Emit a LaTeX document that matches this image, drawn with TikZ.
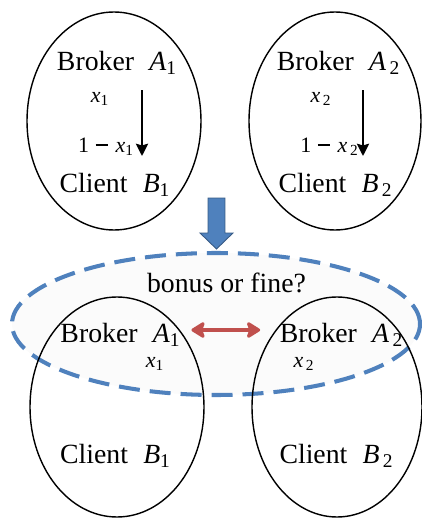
\documentclass[tikz,border=0pt]{standalone}
\usepackage{fontspec}
\setmainfont{Liberation Serif}
\usetikzlibrary{arrows.meta}
\definecolor{setblue}{HTML}{4F81BD}
\definecolor{pairred}{HTML}{C0504D}
\newcommand{\ivar}[2]{\textit{#1}\textsubscript{#2}}
\newcommand{\minusbar}{\hspace{0.3em}\rule[0.26em]{0.55em}{1.2pt}\hspace{0.35em}}

\begin{document}
\begin{tikzpicture}
		\tikzstyle{party} = [anchor=base, inner sep=0pt, font=\fontsize{15.8}{18}\selectfont]
		\tikzstyle{share} = [anchor=base, inner sep=0pt, font=\fontsize{12.5}{15}\selectfont]
		\tikzstyle{group} = [line width=0.8pt]
		\tikzstyle{flow} = [line width=1.1pt, -{Stealth[length=7pt, width=7pt, inset=1pt]}]

		\useasboundingbox (0,0) rectangle (8.44,10.38);

		% before: each broker with its own client
		\draw[group] (2.28,7.96) ellipse (1.74 and 2.18);
		\draw[group] (6.70,7.96) ellipse (1.72 and 2.18);

		\node[party] (topA1) at (2.34,8.98) {Broker\hspace{0.55em}\ivar{A}{1}};
		\node[share] (topx1) at (2.00,8.34) {\ivar{x}{1}};
		\node[share] (topy1) at (2.12,7.34) {1\minusbar\ivar{x}{1}};
		\node[party] (topB1) at (2.30,6.54) {Client\hspace{0.55em}\ivar{B}{1}};
		\coordinate (from1) at (2.84,8.58);
		\coordinate (to1) at (2.84,7.26);
		\draw[flow] (from1) -- (to1);

		\node[party] (topA2) at (6.77,8.98) {Broker\hspace{0.55em}\ivar{A}{\,2}};
		\node[share] (topx2) at (6.42,8.34) {\ivar{x}{\,2}};
		\node[share] (topy2) at (6.59,7.34) {1\minusbar\ivar{x}{\,2}};
		\node[party] (topB2) at (6.71,6.54) {Client\hspace{0.55em}\ivar{B}{\,2}};
		\coordinate (from2) at (7.26,8.58);
		\coordinate (to2) at (7.26,7.26);
		\draw[flow] (from2) -- (to2);

		% transition
		\filldraw[fill=setblue, draw=setblue!70!black, line width=0.5pt]
			(4.16,6.42) -- (4.50,6.42) -- (4.50,5.72) -- (4.66,5.72) -- (4.33,5.40)
			-- (4.00,5.72) -- (4.16,5.72) -- cycle;

		% after: brokers interact
		\draw[setblue, fill=gray!3, line width=2.3pt, dash pattern=on 0.42cm off 0.2cm]
			(4.32,3.90) ellipse (4.08 and 1.42);
		\node[party] (bonus) at (4.53,4.54) {bonus or fine?};

		\draw[group] (2.34,2.24) ellipse (1.74 and 2.20);
		\draw[group] (6.74,2.24) ellipse (1.70 and 2.20);

		\node[party] (botA1) at (2.41,3.54) {Broker\hspace{0.55em}\ivar{A}{1}};
		\node[share] (botx1) at (3.10,3.04) {\ivar{x}{1}};
		\node[party] (botB1) at (2.31,1.12) {Client\hspace{0.55em}\ivar{B}{1}};

		\node[party] (botA2) at (6.83,3.54) {Broker\hspace{0.55em}\ivar{A}{\,2}};
		\node[share] (botx2) at (6.08,3.04) {\ivar{x}{\,2}};
		\node[party] (botB2) at (6.73,1.12) {Client\hspace{0.55em}\ivar{B}{\,2}};

		\draw[pairred, line width=1.8pt, line join=round,
			{Stealth[length=9pt, width=11pt, inset=2pt, round]}-{Stealth[length=9pt, width=11pt, inset=2pt, round]},
			shorten <=6pt, shorten >=11pt] (botA1.east |- 0,3.78) -- (botA2.west |- 0,3.78);
	\end{tikzpicture}
\end{document}
